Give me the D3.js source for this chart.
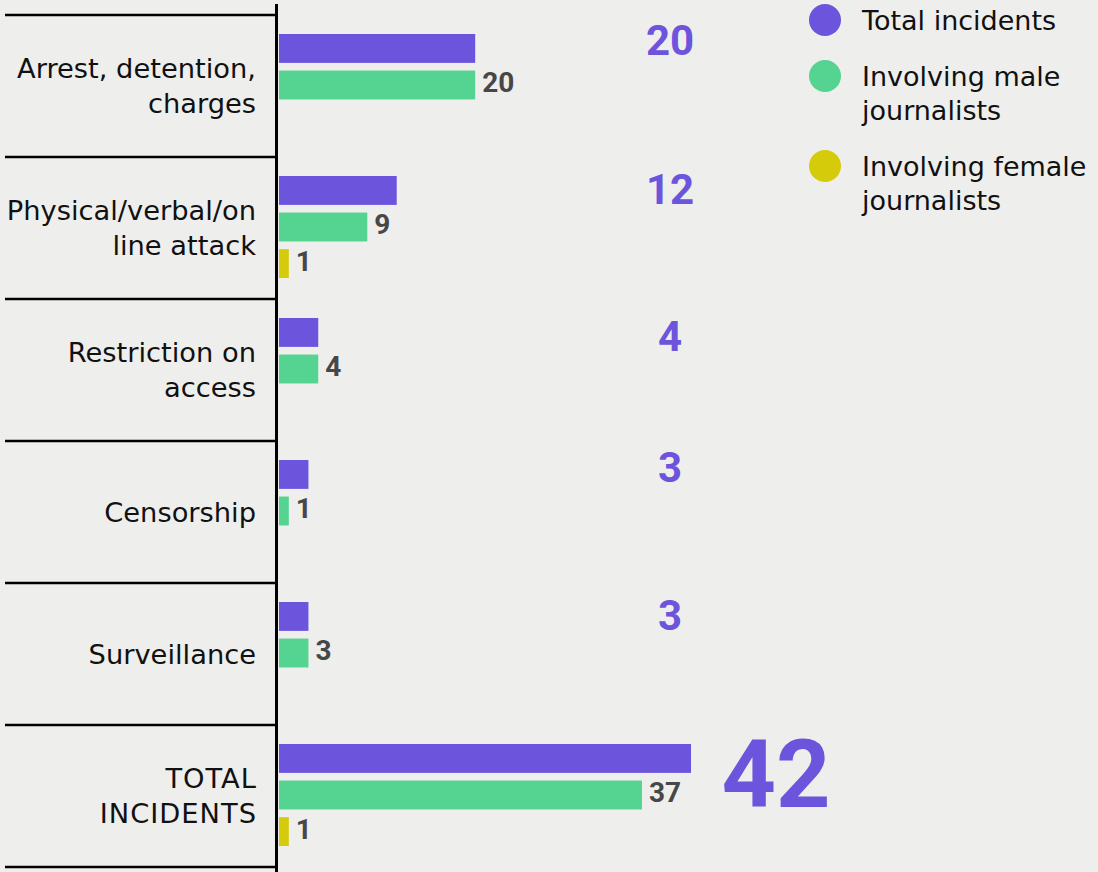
<!DOCTYPE html>
<html><head><meta charset="utf-8">
<script src="https://cdn.jsdelivr.net/npm/d3@7"></script>
<style>html,body{margin:0;padding:0;background:#eeeeec;} svg{display:block}</style>
</head><body><svg id="c" width="1098" height="872"></svg>
<script>
// ---- data ----
const categories = ["Arrest, detention, charges", "Physical/verbal/online attack", "Restriction on access", "Censorship", "Surveillance", "TOTAL INCIDENTS"];
const categoryLines = [["Arrest, detention,", "charges"], ["Physical/verbal/on", "line attack"], ["Restriction on", "access"], ["Censorship"], ["Surveillance"], ["TOTAL", "INCIDENTS"]];
const seriesKeys = ["total", "male", "female"];
const seriesNames = ["Total incidents", "Involving male journalists", "Involving female journalists"];
const legendLines = [["Total incidents"], ["Involving male", "journalists"], ["Involving female", "journalists"]];
const totalIncidents = [20, 12, 4, 3, 3, 42];
const maleIncidents = [20, 9, 4, 1, 3, 37];
const femaleIncidents = [0, 1, 0, 0, 0, 1];

// ---- layout / style ----
const W = 1098, H = 872;
const colors = {total: "#6c55dc", male: "#54d490", female: "#d5cb0b"};
const totalLabelDy = [40, 47, 52, 41, 47, 82];
const legendY = [20, 76, 166];
const labelFont = "'DejaVu Sans', sans-serif";
const numFont = "Roboto, sans-serif";

const rows = categories.map((c, i) => ({
  cat: c, lines: categoryLines[i], i,
  values: {total: totalIncidents[i], male: maleIncidents[i], female: femaleIncidents[i]}
}));

const svg = d3.select("#c");
svg.append("rect").attr("width", W).attr("height", H).attr("fill", "#eeeeec");

const y = d3.scaleBand().domain(categories).range([15, 867]).paddingInner(0).paddingOuter(0);
const ySub = d3.scaleBand().domain(seriesKeys).range([19, 121]).paddingInner(0.21);
const x = d3.scaleLinear().domain([0, 42]).range([279, 691]);

// separators
const seps = categories.map(c => y(c)).concat([y.range()[1]]);
svg.selectAll("line.sep").data(seps).join("line")
  .attr("x1", 5).attr("x2", 277).attr("y1", d => d).attr("y2", d => d)
  .attr("stroke", "#000").attr("stroke-width", 2.5);

// category labels
const g = svg.selectAll("g.row").data(rows).join("g").attr("class", "row")
  .attr("transform", d => `translate(0,${y(d.cat)})`);

g.each(function(d) {
  const sel = d3.select(this);
  const cy = y.bandwidth() / 2;
  const n = d.lines.length;
  const lh = 35;
  const first = cy + 9.5 - (n - 1) * lh / 2;
  const isTotal = d.i === rows.length - 1;
  const t = sel.append("text")
    .attr("text-anchor", "end")
    .attr("font-family", labelFont)
    .attr("font-size", 27.3)
    .attr("letter-spacing", isTotal ? 1 : 0)
    .attr("fill", "#111");
  d.lines.forEach((ln, k) => {
    t.append("tspan").attr("x", isTotal ? 257 : 256).attr("y", first + k * lh).text(ln);
  });

  const bars = seriesKeys.filter(k => d.values[k] > 0);
  sel.selectAll("rect.bar").data(bars).join("rect")
    .attr("x", x(0))
    .attr("y", k => ySub(k))
    .attr("width", k => x(d.values[k]) - x(0))
    .attr("height", ySub.bandwidth())
    .attr("fill", k => colors[k]);

  sel.selectAll("text.val").data(bars.filter(k => k !== "total")).join("text")
    .attr("x", k => x(d.values[k]) + 7)
    .attr("y", k => ySub(k) + 21.5)
    .attr("font-family", numFont)
    .attr("font-weight", 700)
    .attr("font-size", 28)
    .attr("fill", "#474747")
    .text(k => d.values[k]);

  sel.append("text")
    .attr("x", isTotal ? 776 : 670)
    .attr("y", totalLabelDy[d.i])
    .attr("text-anchor", "middle")
    .attr("font-family", numFont)
    .attr("font-weight", 700)
    .attr("font-size", isTotal ? 95 : 42)
    .attr("fill", colors.total)
    .text(d.values.total);
});

// vertical axis line
svg.append("line").attr("x1", 276.5).attr("x2", 276.5).attr("y1", 4).attr("y2", H)
  .attr("stroke", "#000").attr("stroke-width", 3);

// legend
const lg = svg.selectAll("g.leg").data(seriesKeys).join("g").attr("class", "leg")
  .attr("transform", (d, i) => `translate(825,${legendY[i]})`);
lg.append("circle").attr("r", 16).attr("fill", d => colors[d]);
lg.each(function(d, i) {
  const t = d3.select(this).append("text")
    .attr("font-family", labelFont).attr("font-size", 27).attr("fill", "#111");
  legendLines[i].forEach((ln, k) => {
    t.append("tspan").attr("x", 37).attr("y", 10 + k * 34).text(ln);
  });
});
</script></body></html>
